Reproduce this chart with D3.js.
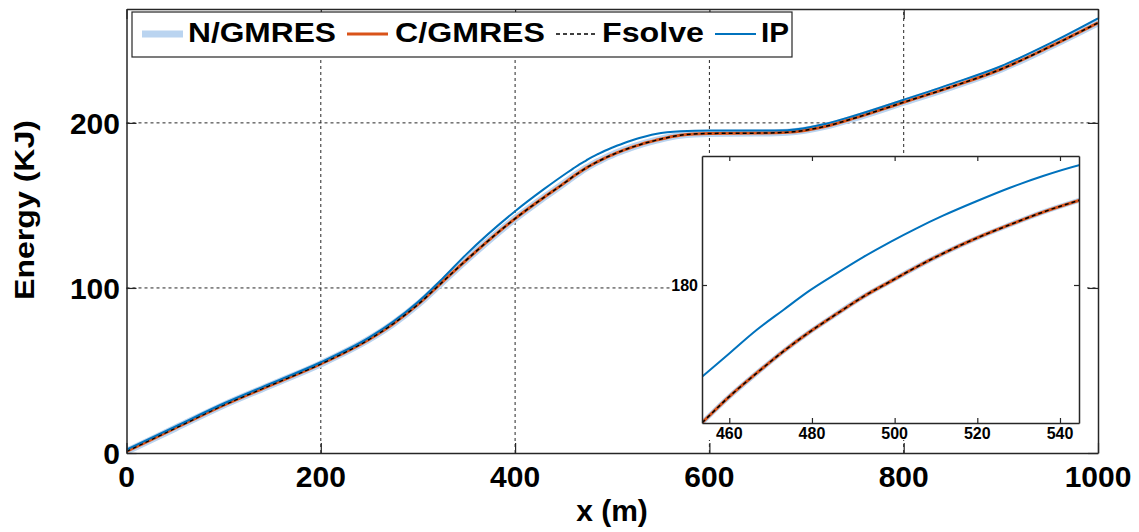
<!DOCTYPE html>
<html>
<head>
<meta charset="utf-8">
<script src="https://cdn.jsdelivr.net/npm/d3@7"></script>
<style>
    body { margin: 0; background: #fff; }
    text { font-family: "Liberation Sans", Arial, sans-serif; font-weight: bold; fill: #000; }
</style>
</head>
<body>
<div id="chart"></div>
<script>
// Positions along the track (m)
const xs = [0, 50, 100, 150, 200, 250, 275, 300, 325, 350, 400, 430, 453.4, 460, 466.6, 473, 479.5, 486, 492.4, 499,
    505.3, 511.7, 519.8, 527.9, 535.9, 544.6, 570, 600, 650, 680, 720, 750, 800, 850, 900, 950, 1000];

// Energy (KJ) for each solver
const nGmres = [1, 15, 29, 41.5, 54, 69, 78.5, 90, 103.5, 117, 142, 155, 164.7, 167.6, 170.2, 172.6, 174.8, 176.8, 178.7, 180.4,
    182.0, 183.5, 185.2, 186.7, 188.1, 189.4, 192.5, 193.6, 193.8, 194.3, 198.0, 203.0, 212.5, 222, 232.5, 246, 260.6];
const cGmres = [1, 15, 29, 41.5, 54, 69, 78.5, 90, 103.5, 117, 142, 155, 164.7, 167.6, 170.2, 172.6, 174.8, 176.8, 178.7, 180.4,
    182.0, 183.5, 185.2, 186.7, 188.1, 189.4, 192.5, 193.6, 193.8, 194.3, 198.0, 203.0, 212.5, 222, 232.5, 246, 260.6];
const fsolve = [1, 15, 29, 41.5, 54, 69, 78.5, 90, 103.5, 117, 142, 155, 164.7, 167.6, 170.2, 172.6, 174.8, 176.8, 178.7, 180.4,
    182.0, 183.5, 185.2, 186.7, 188.1, 189.4, 192.5, 193.6, 193.8, 194.3, 198.0, 203.0, 212.5, 222, 232.5, 246, 260.6];
const ip = [2, 16, 30, 42.5, 55, 70, 79.8, 91.5, 105.5, 120.5, 146.5, 160, 169.8, 172.4, 175.0, 177.2, 179.4, 181.3, 183.1, 184.8,
    186.3, 187.7, 189.3, 190.8, 192.1, 193.3, 195, 195.4, 195.4, 195.6, 199.5, 204.5, 214, 223.8, 234.3, 248, 263.3];

const xTicks = [0, 200, 400, 600, 800, 1000];
const yTicks = [0, 100, 200];
const insetXTicks = [460, 480, 500, 520, 540];
const insetYTicks = [180];

const seriesNames = ["N/GMRES", "C/GMRES", "Fsolve", "IP"];

document.addEventListener("DOMContentLoaded", () => {
    const svg = d3.select("#chart").append("svg").attr("width", 1139).attr("height", 532);

    const styles = [
        { name: seriesNames[0], data: nGmres, color: "#bad4f0", width: 7, inWidth: 5, dash: null },
        { name: seriesNames[1], data: cGmres, color: "#d95319", width: 3, inWidth: 3, dash: null },
        { name: seriesNames[2], data: fsolve, color: "#000", width: 1.5, inWidth: 1.5, dash: "4,3" },
        { name: seriesNames[3], data: ip, color: "#0072bd", width: 2, inWidth: 2, dash: null }
    ];

    // Main axes
    const x = d3.scaleLinear().domain([0, 1000]).range([126.5, 1098]);
    const y = d3.scaleLinear().domain([0, 269]).range([453, 9]);

    const grid = svg.append("g");
    grid.selectAll(".gx").data(xTicks.slice(1, -1)).enter().append("line")
        .attr("x1", d => x(d)).attr("x2", d => x(d))
        .attr("y1", y.range()[0]).attr("y2", y.range()[1])
        .attr("stroke", "#262626").attr("stroke-width", 1).attr("stroke-dasharray", "3,3");
    grid.selectAll(".gy").data(yTicks.slice(1)).enter().append("line")
        .attr("x1", x.range()[0]).attr("x2", x.range()[1])
        .attr("y1", d => y(d)).attr("y2", d => y(d))
        .attr("stroke", "#262626").attr("stroke-width", 1).attr("stroke-dasharray", "3,3");

    svg.append("clipPath").attr("id", "mainClip").append("rect")
        .attr("x", 126.5).attr("y", 9).attr("width", 1098 - 126.5).attr("height", 444);

    const line = d3.line().curve(d3.curveMonotoneX);
    const plot = svg.append("g").attr("clip-path", "url(#mainClip)");
    styles.forEach(s => {
        plot.append("path")
            .datum(xs.map((v, i) => [x(v), y(s.data[i])]))
            .attr("fill", "none")
            .attr("stroke", s.color)
            .attr("stroke-width", s.width)
            .attr("stroke-dasharray", s.dash)
            .attr("stroke-linejoin", "round")
            .attr("d", line);
    });

    // ticks drawn inside on all four sides
    const tickLen = 10;
    svg.append("g").attr("transform", `translate(0,${y(0)})`)
        .call(d3.axisBottom(x).tickValues(xTicks).tickSizeInner(-tickLen).tickSizeOuter(0).tickFormat(""));
    svg.append("g").attr("transform", `translate(0,${y.range()[1]})`)
        .call(d3.axisTop(x).tickValues(xTicks).tickSizeInner(-tickLen).tickSizeOuter(0).tickFormat(""));
    svg.append("g").attr("transform", `translate(${x(0)},0)`)
        .call(d3.axisLeft(y).tickValues(yTicks).tickSizeInner(-tickLen).tickSizeOuter(0).tickFormat(""));
    svg.append("g").attr("transform", `translate(${x(1000)},0)`)
        .call(d3.axisRight(y).tickValues(yTicks).tickSizeInner(-tickLen).tickSizeOuter(0).tickFormat(""));
    svg.selectAll(".domain").attr("stroke", "#262626").attr("stroke-width", 1.5);
    svg.selectAll(".tick line").attr("stroke", "#262626").attr("stroke-width", 1.2);

    // tick labels
    svg.selectAll(".xlab").data(xTicks).enter().append("text")
        .attr("x", d => x(d)).attr("y", 487)
        .attr("text-anchor", "middle").attr("font-size", 30)
        .text(d => d);
    svg.selectAll(".ylab").data(yTicks).enter().append("text")
        .attr("x", 120).attr("y", d => y(d) + 11)
        .attr("text-anchor", "end").attr("font-size", 30)
        .text(d => d);

    svg.append("text").attr("x", 612).attr("y", 521)
        .attr("text-anchor", "middle").attr("font-size", 30)
        .text("x (m)");
    svg.append("text")
        .attr("transform", "translate(34,210) rotate(-90)")
        .attr("text-anchor", "middle").attr("font-size", 28)
        .attr("textLength", 180).attr("lengthAdjust", "spacingAndGlyphs")
        .text("Energy (KJ)");

    // Legend
    const leg = svg.append("g");
    leg.append("rect").attr("x", 132).attr("y", 12).attr("width", 660).attr("height", 45)
        .attr("fill", "#fff").attr("stroke", "#262626").attr("stroke-width", 1.2);
    const legItems = [
        { lx: 142, tx: 188, tw: 148 },
        { lx: 347, tx: 395, tw: 150 },
        { lx: 556, tx: 602, tw: 102 },
        { lx: 715, tx: 761, tw: 28 }
    ];
    styles.forEach((s, i) => {
        const it = legItems[i];
        leg.append("line")
            .attr("x1", it.lx).attr("x2", it.lx + 41).attr("y1", 34).attr("y2", 34)
            .attr("stroke", s.color).attr("stroke-width", i === 0 ? 7 : s.width)
            .attr("stroke-dasharray", s.dash);
        leg.append("text")
            .attr("x", it.tx).attr("y", 42).attr("font-size", 28)
            .attr("textLength", it.tw).attr("lengthAdjust", "spacingAndGlyphs")
            .text(s.name);
    });

    // Inset (zoom on 453-545 m)
    svg.append("rect").attr("x", 672).attr("y", 155).attr("width", 415).attr("height", 285).attr("fill", "#fff");

    const xi = d3.scaleLinear().domain([453.4, 544.6]).range([702, 1079]);
    const yi = d3.scaleLinear().domain([164.67, 194.33]).range([423, 156]);

    svg.append("clipPath").attr("id", "insetClip").append("rect")
        .attr("x", 702).attr("y", 156).attr("width", 377).attr("height", 267);

    const inset = svg.append("g").attr("clip-path", "url(#insetClip)");
    styles.forEach(s => {
        inset.append("path")
            .datum(xs.map((v, i) => [xi(v), yi(s.data[i])]))
            .attr("fill", "none")
            .attr("stroke", s.color)
            .attr("stroke-width", s.inWidth)
            .attr("stroke-dasharray", s.dash)
            .attr("d", line);
    });

    const iTick = 5;
    svg.append("g").attr("class", "inset-ax").attr("transform", `translate(0,${yi.range()[0]})`)
        .call(d3.axisBottom(xi).tickValues(insetXTicks).tickSizeInner(-iTick).tickSizeOuter(0).tickFormat(""));
    svg.append("g").attr("class", "inset-ax").attr("transform", `translate(0,${yi.range()[1]})`)
        .call(d3.axisTop(xi).tickValues(insetXTicks).tickSizeInner(-iTick).tickSizeOuter(0).tickFormat(""));
    svg.append("g").attr("class", "inset-ax").attr("transform", `translate(${xi.range()[0]},0)`)
        .call(d3.axisLeft(yi).tickValues(insetYTicks).tickSizeInner(-iTick).tickSizeOuter(0).tickFormat(""));
    svg.append("g").attr("class", "inset-ax").attr("transform", `translate(${xi.range()[1]},0)`)
        .call(d3.axisRight(yi).tickValues(insetYTicks).tickSizeInner(-iTick).tickSizeOuter(0).tickFormat(""));
    svg.selectAll(".inset-ax .domain").attr("stroke", "#262626").attr("stroke-width", 1.5);
    svg.selectAll(".inset-ax .tick line").attr("stroke", "#262626").attr("stroke-width", 1.2);

    svg.selectAll(".ixlab").data(insetXTicks).enter().append("text")
        .attr("x", d => xi(d)).attr("y", 439)
        .attr("text-anchor", "middle").attr("font-size", 16)
        .text(d => d);
    svg.selectAll(".iylab").data(insetYTicks).enter().append("text")
        .attr("x", 698).attr("y", d => yi(d) + 6)
        .attr("text-anchor", "end").attr("font-size", 16)
        .text(d => d);
});
</script>
</body>
</html>
